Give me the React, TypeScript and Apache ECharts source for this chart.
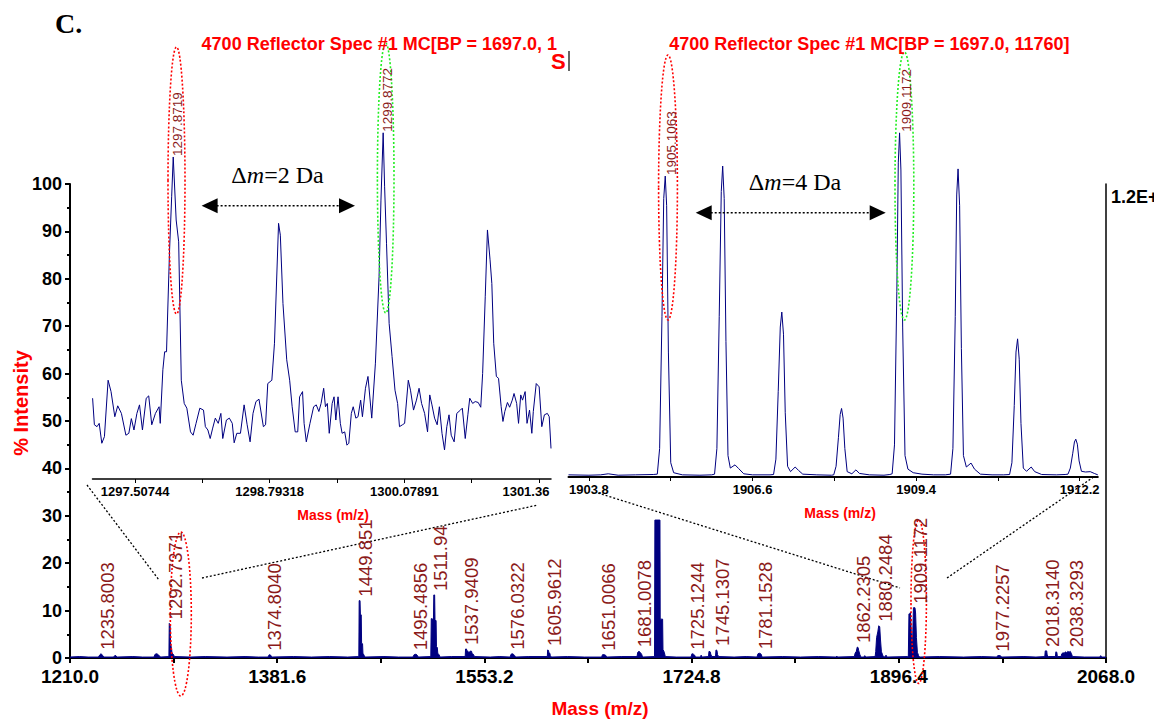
import React, { useEffect, useRef } from "react";
import * as echarts from "echarts";

// ---------------- DATA ----------------
const mainMajorTicks = [1210.0, 1381.6, 1553.2, 1724.8, 1896.4, 2068.0];
const mainAllTicks = [1210, 1295.8, 1381.6, 1467.4, 1553.2, 1639, 1724.8, 1810.6, 1896.4, 1982.2, 2068];

const leftInsetMajorTicks = [1297.50744, 1298.79318, 1300.07891, 1301.36465];
const leftInsetTickLabels = ["1297.50744", "1298.79318", "1300.07891", "1301.36"];
const leftInsetAllTicks = [1297.50744, 1298.15031, 1298.79318, 1299.43604, 1300.07891, 1300.72178, 1301.36465];

const rightInsetMajorTicks = [1903.8, 1906.6, 1909.4, 1912.2];
const rightInsetAllTicks = [1903.8, 1905.2, 1906.6, 1908.0, 1909.4, 1910.8, 1912.2];

// full spectrum, % intensity (visible part)
const mainSpectrum: number[][] = [
  [1210, 0.2], [1218, 0.3], [1225, 0.2], [1233.5, 0.2], [1234.8, 0.7], [1235.8, 0.9], [1236.8, 0.6], [1238, 0.2],
  [1246, 0.2], [1247.5, 0.6], [1249, 0.2], [1262, 0.3], [1270, 0.2],
  [1279.5, 0.2], [1280.5, 0.8], [1282, 0.9], [1283.5, 0.6], [1285, 0.2],
  [1291.9, 0.3], [1292.2, 7.3], [1292.9, 7.1], [1293.3, 2.8], [1294.0, 2.2], [1294.5, 1.0], [1295.5, 0.8], [1296.5, 0.3],
  [1310, 0.2], [1322, 0.3], [1340, 0.2], [1355, 0.3], [1366, 0.2],
  [1374.0, 0.2], [1375.0, 0.7], [1376.2, 0.6], [1377, 0.2],
  [1395, 0.3], [1410, 0.2], [1425, 0.3], [1440, 0.2],
  [1449.2, 0.3], [1449.5, 12.1], [1450.2, 12.1], [1450.5, 9.1], [1451.2, 9.1], [1451.5, 3.1], [1452.3, 3.0], [1452.6, 1.0], [1453.5, 0.6], [1454.2, 0.2],
  [1470, 0.3], [1482, 0.2],
  [1494, 0.2], [1495, 0.7], [1496.5, 0.8], [1497.5, 0.6], [1498.5, 0.2],
  [1508.8, 0.3], [1509.2, 8.3], [1510.0, 8.3], [1510.2, 6.0], [1510.4, 8.1], [1511.0, 8.0], [1511.3, 13.3], [1512.0, 13.3], [1512.3, 7.9], [1513.2, 7.9], [1513.5, 2.4], [1514.2, 2.2], [1514.6, 1.0], [1515.6, 0.7], [1516.5, 0.2],
  [1526, 0.3],
  [1537.3, 0.3], [1537.6, 1.9], [1538.4, 1.9], [1538.7, 1.4], [1539.5, 1.5], [1540, 1.0], [1540.6, 1.3], [1541.4, 1.2], [1541.8, 1.5], [1542.6, 1.4], [1543, 0.9], [1544, 0.8], [1545, 0.3],
  [1558, 0.2], [1566, 0.3],
  [1574.5, 0.2], [1575.3, 0.8], [1576.2, 0.9], [1577.2, 0.8], [1578.3, 0.5], [1579, 0.2],
  [1590, 0.3],
  [1605.3, 0.3], [1605.6, 1.7], [1606.3, 1.6], [1606.6, 1.1], [1607.4, 1.0], [1607.8, 0.5], [1608.7, 0.2],
  [1622, 0.3], [1636, 0.2],
  [1650.3, 0.2], [1651, 0.7], [1652.3, 0.7], [1653.5, 0.6], [1654.5, 0.2],
  [1667, 0.3],
  [1679.6, 0.3], [1680.2, 1.2], [1681.2, 1.4], [1682.2, 1.2], [1683.4, 0.8], [1684.2, 0.2],
  [1694.1, 0.3], [1694.4, 29.1], [1698.6, 29.1], [1698.8, 8.2], [1700.8, 8.2], [1701.1, 1.8], [1702.2, 1.2], [1703, 0.3],
  [1712, 0.2],
  [1724.3, 0.2], [1725.1, 0.9], [1726.3, 0.8], [1727.3, 0.6], [1728, 0.2],
  [1732.2, 0.2], [1732.7, 0.6], [1733.3, 0.2],
  [1738.8, 0.3], [1739.2, 1.4], [1740.2, 1.3], [1740.7, 0.8], [1741.5, 0.3],
  [1744.6, 0.3], [1745, 1.7], [1745.8, 1.6], [1746.3, 0.7], [1747.2, 0.3],
  [1760, 0.2], [1770, 0.3],
  [1778.9, 0.2], [1779.8, 0.9], [1781.2, 1.0], [1782.4, 0.8], [1783.2, 0.2],
  [1800, 0.3], [1815, 0.2], [1830, 0.3],
  [1844.5, 0.2], [1845.1, 0.4], [1845.7, 0.2],
  [1859.6, 0.3], [1860.2, 1.0], [1861.2, 1.4], [1862.0, 2.3], [1862.7, 2.2], [1863.2, 1.6], [1864.2, 0.7], [1865, 0.2],
  [1867.5, 0.2], [1868.2, 0.5], [1869, 0.2],
  [1876.8, 0.3], [1877.3, 1.4], [1878.0, 4.3], [1879.0, 5.5], [1879.8, 6.8], [1880.6, 6.6], [1881.2, 4.0], [1882.0, 1.3], [1882.8, 0.8], [1883.5, 0.3],
  [1885, 0.2], [1885.8, 0.6], [1886.6, 0.2],
  [1903.8, 0.3], [1904.3, 0.4], [1904.8, 9.3], [1905.7, 9.3], [1906.0, 9.6], [1906.8, 5.1], [1907.7, 2.1], [1908.5, 10.6], [1909.8, 10.6], [1910.3, 9.5], [1911.0, 4.3], [1911.8, 1.2], [1912.8, 0.5], [1913.6, 0.2],
  [1930, 0.3], [1950, 0.2], [1965, 0.3],
  [1977.5, 0.2], [1978.3, 0.5], [1980.5, 0.5], [1981.5, 0.2],
  [2000, 0.3], [2010, 0.2],
  [2017.3, 0.3], [2017.7, 1.5], [2018.9, 1.5], [2019.3, 0.6], [2020.3, 0.3],
  [2026.1, 0.3], [2026.5, 1.3], [2027.3, 1.2], [2027.7, 0.3],
  [2030.8, 0.3], [2031.4, 0.9], [2032.4, 1.1], [2033.4, 1.0], [2034.4, 1.3], [2035.4, 1.1], [2036.4, 1.4], [2037.4, 1.2], [2038.4, 1.4], [2039.4, 0.9], [2040.2, 0.3],
  [2050, 0.2], [2062.8, 0.2], [2063.6, 0.5], [2064.4, 0.2], [2068, 0.2],
];

// labelled peaks in the full spectrum: [text, m/z, intensity at label foot]
const mainPeakLabels: [string, number, number][] = [
  ["1235.8003", 1235.8003, 0.9],
  ["1292.7371", 1292.7371, 7.3],
  ["1374.8040", 1374.804, 0.7],
  ["1449.851", 1449.851, 12.1],
  ["1495.4856", 1495.4856, 0.8],
  ["1511.94", 1511.94, 13.3],
  ["1537.9409", 1537.9409, 1.9],
  ["1576.0322", 1576.0322, 0.9],
  ["1605.9612", 1605.9612, 1.7],
  ["1651.0066", 1651.0066, 0.7],
  ["1681.0078", 1681.0078, 1.4],
  ["1725.1244", 1725.1244, 0.9],
  ["1745.1307", 1745.1307, 1.7],
  ["1781.1528", 1781.1528, 1.0],
  ["1862.2305", 1862.2305, 2.3],
  ["1880.2484", 1880.2484, 6.8],
  ["1909.1172", 1909.1172, 10.6],
  ["1977.2257", 1977.2257, 0.5],
  ["2018.3140", 2018.314, 1.5],
  ["2038.3293", 2038.3293, 1.4],
];

// left inset (1297-1301 region)
const leftInsetSpectrum: number[][] = [
  [1297.102, 54.8], [1297.119, 49.2], [1297.144, 48.8], [1297.165, 49.5], [1297.190, 45.3], [1297.215, 46.7], [1297.250, 58.6], [1297.278, 56.2], [1297.314, 50.9], [1297.342, 53.2], [1297.377, 51.6], [1297.420, 47.0], [1297.448, 47.4], [1297.472, 50.5], [1297.497, 48.1], [1297.525, 51.6], [1297.550, 53.4], [1297.578, 48.1], [1297.614, 54.8], [1297.638, 55.3], [1297.667, 49.2], [1297.702, 51.6], [1297.737, 53.0], [1297.748, 49.5], [1297.773, 60.8], [1297.790, 64.6], [1297.808, 64.6], [1297.836, 85.4], [1297.857, 97.3], [1297.872, 105.7], [1297.900, 92.4], [1297.924, 87.8], [1297.949, 58.6], [1297.977, 53.7], [1298.002, 52.7], [1298.037, 47.7], [1298.062, 47.0], [1298.090, 49.5], [1298.126, 52.7], [1298.161, 52.3], [1298.179, 48.8], [1298.203, 48.1], [1298.225, 46.3], [1298.249, 48.5], [1298.274, 50.6], [1298.302, 49.5], [1298.327, 51.6], [1298.345, 46.3], [1298.380, 50.2], [1298.408, 50.6], [1298.436, 49.5], [1298.454, 45.4], [1298.479, 47.4], [1298.514, 47.4], [1298.549, 53.4], [1298.578, 49.2], [1298.606, 45.6], [1298.634, 51.6], [1298.662, 54.1], [1298.691, 54.6], [1298.733, 48.8], [1298.754, 49.2], [1298.775, 57.9], [1298.814, 58.6], [1298.839, 66.4], [1298.878, 91.7], [1298.895, 89.2], [1298.920, 74.8], [1298.956, 62.9], [1298.984, 58.6], [1299.008, 53.0], [1299.037, 47.7], [1299.061, 47.7], [1299.079, 55.1], [1299.107, 56.2], [1299.122, 49.5], [1299.143, 45.6], [1299.178, 49.5], [1299.213, 53.0], [1299.238, 53.4], [1299.263, 52.0], [1299.284, 53.7], [1299.309, 56.9], [1299.326, 53.0], [1299.344, 53.7], [1299.362, 47.4], [1299.390, 53.7], [1299.408, 55.1], [1299.425, 50.2], [1299.446, 55.1], [1299.468, 49.5], [1299.485, 47.4], [1299.510, 47.7], [1299.531, 44.9], [1299.549, 45.3], [1299.573, 51.6], [1299.591, 53.0], [1299.616, 50.6], [1299.637, 50.9], [1299.662, 54.4], [1299.679, 50.9], [1299.708, 56.9], [1299.732, 59.4], [1299.768, 50.6], [1299.803, 62.2], [1299.838, 80.5], [1299.856, 96.6], [1299.877, 110.8], [1299.891, 99.4], [1299.909, 87.5], [1299.934, 70.6], [1299.962, 63.6], [1299.990, 56.5], [1300.015, 53.7], [1300.033, 48.8], [1300.061, 49.2], [1300.082, 49.5], [1300.117, 58.6], [1300.138, 56.5], [1300.167, 52.3], [1300.195, 54.4], [1300.220, 56.9], [1300.244, 53.7], [1300.273, 51.6], [1300.301, 47.7], [1300.322, 55.5], [1300.343, 53.4], [1300.368, 50.6], [1300.393, 49.2], [1300.414, 53.0], [1300.439, 47.4], [1300.463, 43.9], [1300.485, 48.8], [1300.506, 51.3], [1300.527, 47.0], [1300.555, 45.6], [1300.580, 51.6], [1300.615, 52.3], [1300.633, 52.7], [1300.661, 46.3], [1300.686, 51.3], [1300.704, 54.8], [1300.732, 53.7], [1300.756, 54.1], [1300.785, 53.9], [1300.809, 52.9], [1300.827, 60.0], [1300.852, 76.2], [1300.873, 90.3], [1300.898, 84.0], [1300.915, 79.0], [1300.933, 66.4], [1300.958, 59.4], [1300.979, 59.0], [1301.004, 53.0], [1301.021, 49.9], [1301.039, 52.0], [1301.064, 53.9], [1301.085, 52.9], [1301.110, 54.4], [1301.127, 55.8], [1301.152, 53.7], [1301.170, 49.5], [1301.191, 55.5], [1301.208, 54.4], [1301.233, 56.2], [1301.251, 49.5], [1301.275, 52.3], [1301.297, 47.4], [1301.311, 52.0], [1301.339, 57.9], [1301.367, 57.2], [1301.392, 48.8], [1301.417, 51.3], [1301.445, 51.6], [1301.463, 50.9], [1301.480, 44.2],
];

// right inset (1904-1912 region)
const rightInsetSpectrum: number[][] = [
  [1903.45, 0.6], [1903.8, 0.5], [1904.0, 0.6], [1904.13, 0.9], [1904.3, 0.5], [1904.6, 0.6], [1904.9, 0.7],
  [1904.97, 0.8], [1905.01, 8], [1905.05, 45], [1905.08, 78], [1905.106, 84.3], [1905.13, 76], [1905.16, 35], [1905.2, 4], [1905.25, 1.2], [1905.4, 0.6], [1905.7, 0.5], [1905.9, 0.6],
  [1905.95, 0.8], [1905.99, 8], [1906.03, 45], [1906.065, 80], [1906.089, 87.1], [1906.115, 78], [1906.145, 38], [1906.18, 6], [1906.22, 2.5], [1906.3, 3.4], [1906.36, 2.4], [1906.45, 0.9], [1906.6, 0.6], [1906.9, 0.6],
  [1906.96, 0.7], [1907.0, 5], [1907.04, 24], [1907.075, 42], [1907.101, 46.2], [1907.13, 40], [1907.16, 18], [1907.2, 3], [1907.25, 1.5], [1907.33, 2.8], [1907.39, 1.8], [1907.46, 0.8], [1907.7, 0.6], [1907.95, 0.5],
  [1907.99, 0.6], [1908.03, 3], [1908.07, 11], [1908.1, 17.5], [1908.124, 19.2], [1908.15, 16.5], [1908.18, 8], [1908.22, 1.5], [1908.3, 0.9], [1908.37, 2.0], [1908.43, 1.0], [1908.6, 0.6], [1908.85, 0.5], [1908.95, 0.7],
  [1908.99, 0.9], [1909.03, 9], [1909.07, 52], [1909.095, 88], [1909.117, 96.4], [1909.14, 86], [1909.17, 42], [1909.21, 6], [1909.26, 2.2], [1909.35, 1.2], [1909.5, 0.8], [1909.7, 0.6], [1909.9, 0.6],
  [1909.99, 0.8], [1910.03, 8], [1910.07, 45], [1910.095, 79], [1910.118, 86.3], [1910.145, 76], [1910.175, 36], [1910.21, 6], [1910.26, 2.8], [1910.34, 3.9], [1910.4, 2.2], [1910.5, 0.8], [1910.7, 0.6], [1910.9, 0.6],
  [1911.0, 0.7], [1911.04, 4], [1911.08, 20], [1911.11, 35], [1911.137, 38.7], [1911.165, 33], [1911.195, 15], [1911.235, 2.5], [1911.29, 1.6], [1911.37, 2.8], [1911.43, 1.5], [1911.55, 0.7], [1911.8, 0.6], [1911.95, 0.7],
  [1912.0, 0.8], [1912.04, 2.5], [1912.08, 6.5], [1912.11, 9.8], [1912.133, 10.6], [1912.16, 9.2], [1912.19, 4.5], [1912.23, 1.6], [1912.3, 1.4], [1912.38, 1.5], [1912.45, 1.0], [1912.51, 0.6],
];

// inset peak annotations: [text, m/z, intensity]
const leftInsetPeakLabels: [string, number, number][] = [
  ["1297.8719", 1297.8719, 105.7],
  ["1299.8772", 1299.8772, 110.8],
];
const rightInsetPeakLabels: [string, number, number][] = [
  ["1905.1063", 1905.1063, 84.3],
  ["1909.1172", 1909.1172, 96.4],
];

const titleLeft = "4700 Reflector Spec #1 MC[BP = 1697.0, 1";
const titleRight = "4700 Reflector Spec #1 MC[BP = 1697.0, 11760]";

// ---------------- STYLE ----------------
const SANS = '"Liberation Sans", Arial, sans-serif';
const SERIF = '"Liberation Serif", "Times New Roman", serif';
const NAVY = "#000080";
const DARK_RED = "#8b1a1a";
const RED = "#ff0000";
const GREEN = "#22ee22";

function nearestLabel(v: number, ticks: number[], labels: string[]) {
  let best = -1;
  let d = Infinity;
  ticks.forEach((t, i) => {
    const dd = Math.abs(t - v);
    if (dd < d) { d = dd; best = i; }
  });
  return d < 1e-3 ? labels[best] : "";
}

export default function App() {
  const ref = useRef<HTMLDivElement>(null);

  useEffect(() => {
    if (!ref.current) return;
    const chart = echarts.init(ref.current, null, { renderer: "svg" });

    const option: any = {
      animation: false,
      backgroundColor: "#ffffff",
      grid: [
        { left: 70, top: 184, width: 1036, height: 474 },
        { left: 92.5, top: 120, width: 458.5, height: 359 },
        { left: 568.5, top: 120, width: 529.3, height: 357 },
      ],
      xAxis: [
        {
          type: "value", gridIndex: 0, min: 1210, max: 2068,
          axisLine: { show: true, onZero: false, lineStyle: { color: "#000", width: 2 } },
          axisTick: { show: true, customValues: mainAllTicks, length: 5, lineStyle: { color: "#000", width: 2 } },
          axisLabel: {
            show: true, customValues: mainMajorTicks, margin: 9, lineHeight: 19,
            formatter: (v: number) => v.toFixed(1),
            color: "#000", fontWeight: "bold", fontSize: 19, fontFamily: SANS,
          },
          splitLine: { show: false },
        },
        {
          type: "value", gridIndex: 1, min: 1297.101, max: 1301.48,
          axisLine: { show: true, onZero: false, lineStyle: { color: "#000", width: 1.5 } },
          axisTick: { show: true, customValues: leftInsetAllTicks, length: 4, lineStyle: { color: "#000", width: 1 } },
          axisLabel: {
            show: true, customValues: leftInsetMajorTicks, margin: 6,
            formatter: (v: number) => {
              const s = nearestLabel(v, leftInsetMajorTicks, leftInsetTickLabels);
              return s === "1301.36" ? "{r|" + s + "}" : s;
            },
            rich: { r: { padding: [0, 26, 0, 0], fontWeight: "bold", fontSize: 13, fontFamily: SANS, color: "#000" } },
            color: "#000", fontWeight: "bold", fontSize: 13, fontFamily: SANS,
          },
          splitLine: { show: false },
        },
        {
          type: "value", gridIndex: 2, min: 1903.45, max: 1912.51,
          axisLine: { show: true, onZero: false, lineStyle: { color: "#000", width: 2 } },
          axisTick: { show: true, customValues: rightInsetAllTicks, length: 4, lineStyle: { color: "#000", width: 1 } },
          axisLabel: {
            show: true, customValues: rightInsetMajorTicks, margin: 6,
            formatter: (v: number) => v.toFixed(1),
            color: "#000", fontWeight: "bold", fontSize: 13, fontFamily: SANS,
          },
          splitLine: { show: false },
        },
      ],
      yAxis: [
        {
          type: "value", gridIndex: 0, min: 0, max: 100, interval: 10,
          axisLine: { show: true, lineStyle: { color: "#000", width: 2 } },
          axisTick: { show: true, length: 5, lineStyle: { color: "#000", width: 2 } },
          minorTick: { show: true, splitNumber: 2, length: 3, lineStyle: { color: "#000", width: 2 } },
          axisLabel: { show: true, margin: 8, lineHeight: 16, color: "#000", fontWeight: "bold", fontSize: 18, fontFamily: SANS },
          splitLine: { show: false },
        },
        {
          type: "value", gridIndex: 0, min: 0, max: 100, position: "right",
          axisLine: { show: true, lineStyle: { color: "#000", width: 1.5 } },
          axisTick: { show: false }, axisLabel: { show: false }, splitLine: { show: false },
        },
        {
          type: "value", gridIndex: 1, min: 37.76, max: 113.5, show: false, splitLine: { show: false },
        },
        {
          type: "value", gridIndex: 2, min: 0, max: 100, show: false, splitLine: { show: false },
        },
      ],
      series: [
        {
          type: "line", xAxisIndex: 0, yAxisIndex: 0, data: mainSpectrum, symbol: "none",
          lineStyle: { color: NAVY, width: 1 }, areaStyle: { color: NAVY, opacity: 1 }, z: 3,
        },
        {
          type: "line", xAxisIndex: 1, yAxisIndex: 2, data: leftInsetSpectrum, symbol: "none",
          lineStyle: { color: NAVY, width: 1 }, clip: false, z: 4,
        },
        {
          type: "line", xAxisIndex: 2, yAxisIndex: 3, data: rightInsetSpectrum, symbol: "none",
          lineStyle: { color: NAVY, width: 1 }, clip: false, z: 4,
        },
      ],
    };
    chart.setOption(option);

    const toPx = (xi: number, yi: number, pt: number[]) =>
      chart.convertToPixel({ xAxisIndex: xi, yAxisIndex: yi } as any, pt) as unknown as number[];

    const vText = (text: string, x: number, y: number, size: number, color: string) => ({
      type: "text", x, y, rotation: Math.PI / 2, z: 50,
      style: {
        text, fill: color, font: `${size}px ${SANS}`,
        align: "left", verticalAlign: "middle", textAlign: "left", textVerticalAlign: "middle",
      },
    });
    const hText = (text: string, x: number, y: number, font: string, color: string, align = "center") => ({
      type: "text", x, y, z: 50,
      style: {
        text, fill: color, font, align, verticalAlign: "middle", textAlign: align, textVerticalAlign: "middle",
      },
    });
    const dotEllipse = (cx: number, cy: number, rx: number, ry: number, color: string) => ({
      type: "ellipse", z: 40, shape: { cx, cy, rx, ry },
      style: { fill: "none", stroke: color, lineWidth: 1.6, lineDash: [2, 2] },
    });
    const dotLine = (x1: number, y1: number, x2: number, y2: number) => ({
      type: "line", z: 40, shape: { x1, y1, x2, y2 },
      style: { stroke: "#000", lineWidth: 1.3, lineDash: [2, 2] },
    });
    const arrow = (xa: number, xb: number, y: number) => [
      { type: "line", z: 40, shape: { x1: xa + 15, y1: y, x2: xb - 15, y2: y }, style: { stroke: "#000", lineWidth: 1.5, lineDash: [2, 2] } },
      { type: "polygon", z: 40, shape: { points: [[xa, y], [xa + 16, y - 7.5], [xa + 16, y + 7.5]] }, style: { fill: "#000" } },
      { type: "polygon", z: 40, shape: { points: [[xb, y], [xb - 16, y - 7.5], [xb - 16, y + 7.5]] }, style: { fill: "#000" } },
    ];

    const elements: any[] = [];

    // main spectrum peak labels
    mainPeakLabels.forEach(([t, m, h]) => {
      const [x, y] = toPx(0, 0, [m, h]);
      elements.push(vText(t, x + 6, y - 4, 18.5, DARK_RED));
    });
    // inset peak labels
    leftInsetPeakLabels.forEach(([t, m, h]) => {
      const [x, y] = toPx(1, 2, [m, h]);
      elements.push(vText(t, x + 4.5, y - 1, 13.5, DARK_RED));
    });
    rightInsetPeakLabels.forEach(([t, m, h]) => {
      const [x, y] = toPx(2, 3, [m, h]);
      elements.push(vText(t, x + 6.5, y - 1, 13.5, DARK_RED));
    });

    // ellipses
    elements.push(dotEllipse(176.5, 180.5, 8.5, 133.5, RED));
    elements.push(dotEllipse(385.7, 178, 8.3, 135, GREEN));
    elements.push(dotEllipse(668, 187.5, 9.4, 132.5, RED));
    elements.push(dotEllipse(904.4, 186, 9.4, 134, GREEN));
    elements.push(dotEllipse(180.8, 614, 10.5, 82, RED));
    elements.push(dotEllipse(918.7, 601.7, 7.7, 81.7, RED));

    // zoom guide lines
    elements.push(dotLine(87, 485, 159, 580));
    elements.push(dotLine(202, 578, 538, 505));
    elements.push(dotLine(598, 493, 900, 588));
    elements.push(dotLine(947, 578, 1095, 476));

    // delta-m arrows and texts
    elements.push(...arrow(201.6, 355, 205.7));
    elements.push(...arrow(695.7, 885.7, 212.7));
    const dm = (val: string, x: number, y: number) => ({
      type: "text", x, y, z: 50,
      style: {
        text: `{a|Δ}{i|m}{a|=${val} Da}`,
        align: "center", verticalAlign: "middle", textAlign: "center", textVerticalAlign: "middle",
        rich: {
          a: { font: `24px ${SERIF}`, fill: "#000", color: "#000" },
          i: { font: `italic 24px ${SERIF}`, fill: "#000", color: "#000" },
        },
      },
    });
    elements.push(dm("2", 277.5, 175));
    elements.push(dm("4", 795, 182));

    // titles and names
    elements.push(hText("C.", 55, 23, `bold 28px ${SERIF}`, "#000", "left"));
    elements.push(hText(titleLeft, 201.6, 43.5, `bold 18px ${SANS}`, RED, "left"));
    elements.push(hText(titleRight, 669.2, 43.5, `bold 18px ${SANS}`, RED, "left"));
    elements.push(hText("S", 551, 61, `bold 22px ${SANS}`, RED, "left"));
    elements.push({ type: "line", z: 45, shape: { x1: 569, y1: 51, x2: 569, y2: 71 }, style: { stroke: "#666", lineWidth: 2 } });
    elements.push(hText("Mass (m/z)", 333, 515, `bold 14px ${SANS}`, RED));
    elements.push(hText("Mass (m/z)", 840, 513, `bold 14px ${SANS}`, RED));
    elements.push(hText("Mass (m/z)", 600, 708, `bold 19px ${SANS}`, RED));
    elements.push({
      type: "text", x: 21, y: 403, rotation: Math.PI / 2, z: 50,
      style: {
        text: "% Intensity", fill: RED, font: `bold 20px ${SANS}`,
        align: "center", verticalAlign: "middle", textAlign: "center", textVerticalAlign: "middle",
      },
    });
    elements.push(hText("1.2E+4", 1111, 197, `bold 18px ${SANS}`, "#000", "left"));
    elements.push({ type: "rect", z: 60, shape: { x: 1154, y: 185, width: 14, height: 25 }, style: { fill: "#ffffff" } });

    chart.setOption({ graphic: { elements } });

    return () => chart.dispose();
  }, []);

  return (
    <div
      ref={ref}
      style={{ position: "absolute", left: 0, top: 0, width: 1168, height: 724, background: "#fff" }}
    />
  );
}
